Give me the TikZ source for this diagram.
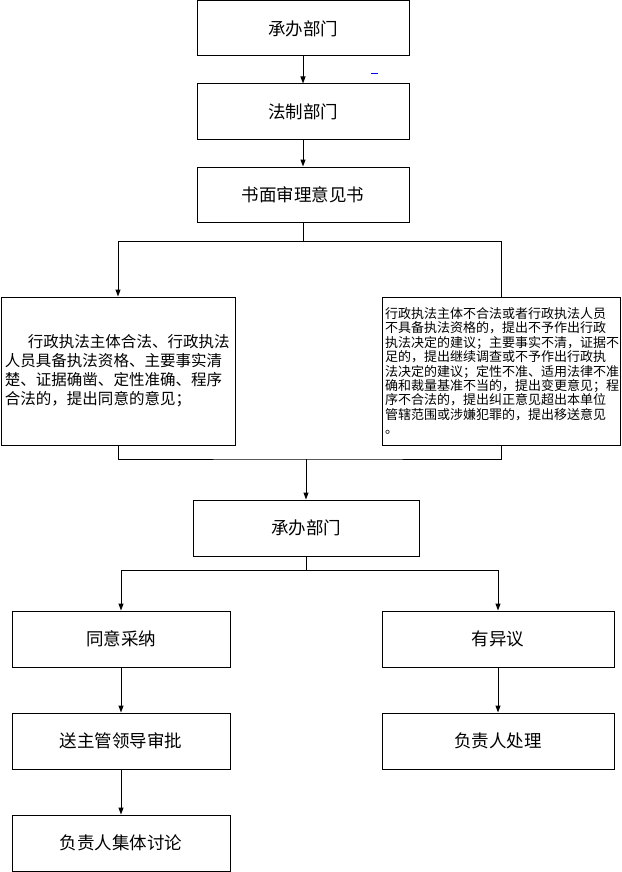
\documentclass[tikz,border=0pt]{standalone}
\usepackage{fontspec}
\setmainfont{Noto Sans CJK SC}
\usetikzlibrary{arrows.meta}
\begin{document}
\begin{tikzpicture}[x=1pt,y=-1pt,
  box/.style={draw, line width=1pt, inner sep=0pt, font=\fontsize{17.5}{20}\selectfont},
  ln/.style={line width=1pt},
  arr/.style={line width=1pt, -{Triangle[length=7pt,width=5pt]}}]
\useasboundingbox[fill=white] (0,0) rectangle (621,872);
% top column
\node[box, minimum width=212pt, minimum height=55pt] (b1) at (303,28.5) {承办部门};
\node[box, minimum width=212pt, minimum height=55pt] (b2) at (303,111.5) {法制部门};
\node[box, minimum width=212pt, minimum height=55pt] (b3) at (303,194.5) {书面审理意见书};
% opinion boxes
\node[box, minimum width=234pt, minimum height=148pt, text width=226pt, align=left,
      font=\fontsize{15.5}{19}\selectfont] (L) at (118,371)
  {\hspace*{23pt}行政执法主体合法、行政执法\\人员具备执法资格、主要事实清\\楚、证据确凿、定性准确、程序\\合法的，提出同意的意见；};
\node[box, minimum width=238pt, minimum height=148pt, text width=232pt, align=left,
      font=\fontsize{13}{14.4}\selectfont] (R) at (501,371)
  {行政执法主体不合法或者行政执法人员\\不具备执法资格的，提出不予作出行政\\执法决定的建议；主要事实不清，证据不\\足的，提出继续调查或不予作出行政执\\法决定的建议；定性不准、适用法律不准\\确和裁量基准不当的，提出变更意见；程\\序不合法的，提出纠正意见超出本单位\\管辖范围或涉嫌犯罪的，提出移送意见\\。};
% second handling dept
\node[box, minimum width=226pt, minimum height=56pt] (b4) at (306,528) {承办部门};
% bottom columns
\node[box, minimum width=218pt, minimum height=56pt] (c1) at (121,639) {同意采纳};
\node[box, minimum width=218pt, minimum height=56pt] (c2) at (121,741) {送主管领导审批};
\node[box, minimum width=218pt, minimum height=56pt] (c3) at (121,843) {负责人集体讨论};
\node[box, minimum width=232pt, minimum height=56pt] (d1) at (498,639) {有异议};
\node[box, minimum width=232pt, minimum height=56pt] (d2) at (498,741) {负责人处理};
% connectors
\draw[arr] (b1) -- (b2);
\draw[arr] (b2) -- (b3);
\draw[ln] (b3.south) -- ++(0,19) coordinate (j1);
\draw[arr] (j1) -| (L.north);
\draw[ln] (j1) -| (R.north);
\coordinate (m) at (306,459);
\draw[ln] (L.south) |- (m) -| (R.south);
\draw[arr] (m) -- (b4.north);
\draw[ln] (b4.south) -- ++(0,14) coordinate (j2);
\draw[arr] (j2) -| (c1.north);
\draw[arr] (j2) -| (d1.north);
\draw[arr] (c1) -- (c2);
\draw[arr] (c2) -- (c3);
\draw[arr] (d1) -- (d2);
% small blue mark
\draw[blue, line width=1pt] (371,74) -- (378,74);
\end{tikzpicture}
\end{document}
